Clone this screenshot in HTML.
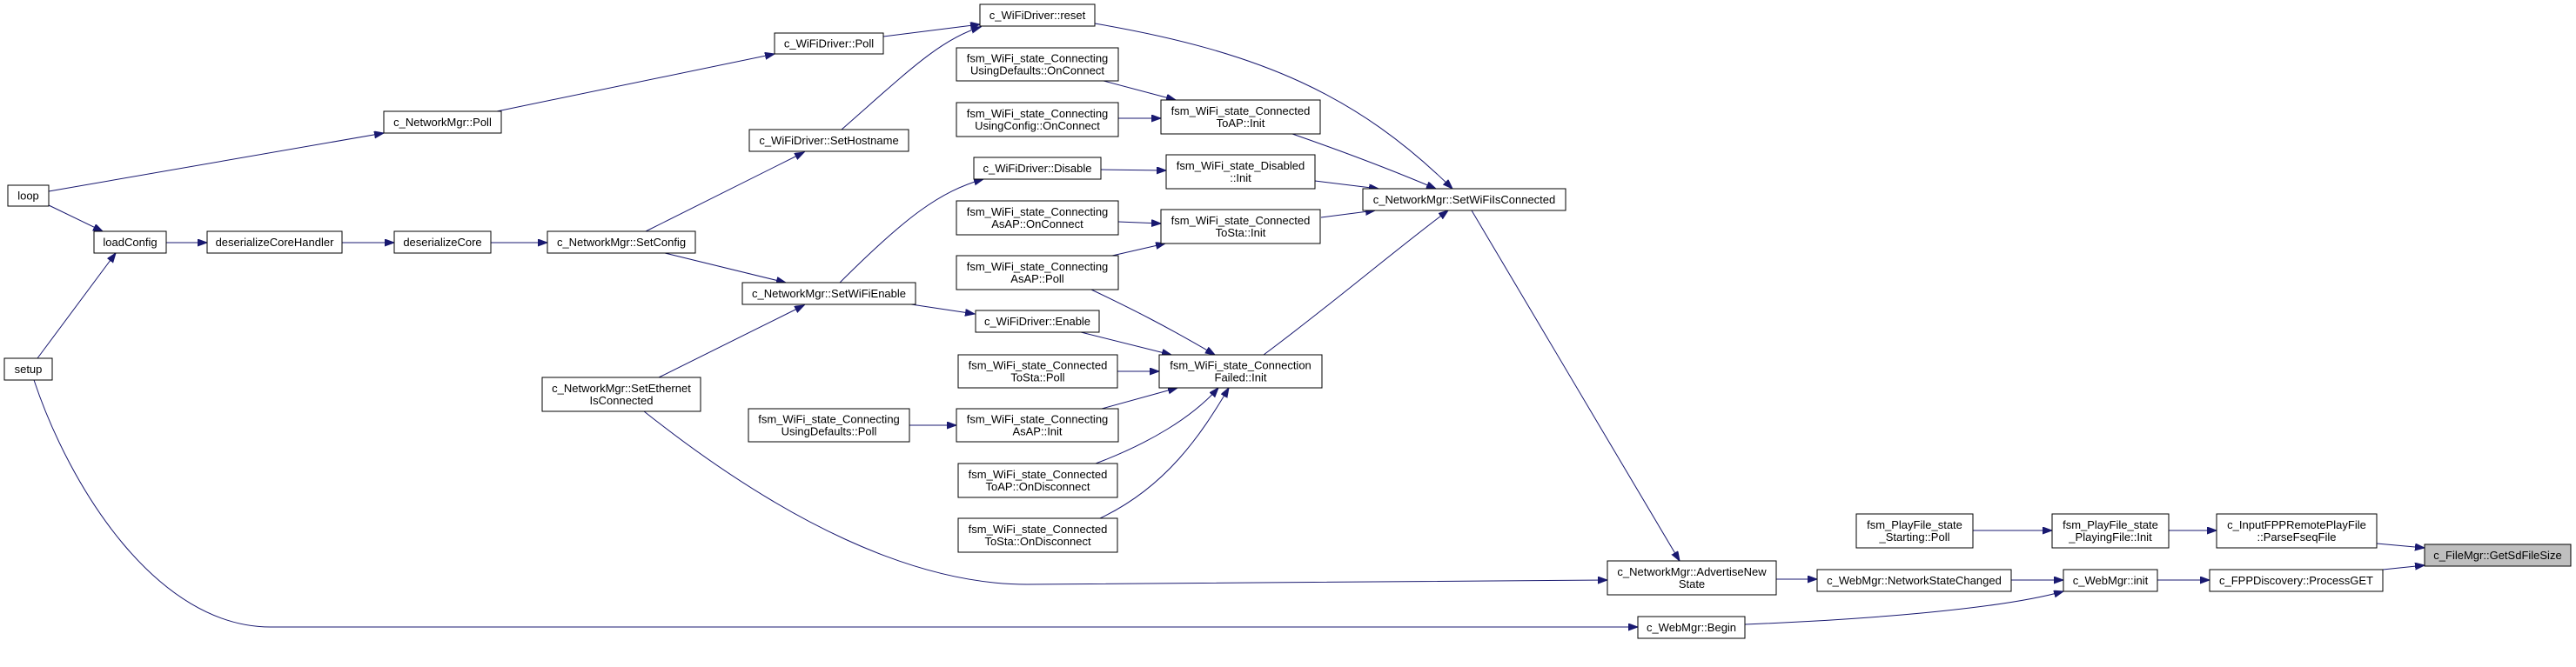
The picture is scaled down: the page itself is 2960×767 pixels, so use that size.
<!DOCTYPE html>
<html><head><meta charset="utf-8"><style>
html,body{margin:0;padding:0;background:#fff;}
svg{display:block;}
rect{fill:#fff;stroke:#000;stroke-width:1;}
text{font-family:"Liberation Sans",sans-serif;font-size:13px;text-anchor:middle;fill:#000;}
path{fill:none;stroke:#191970;stroke-width:1;}
</style></head><body>
<svg width="2960" height="767" xmlns="http://www.w3.org/2000/svg">
<defs><marker id="a" markerUnits="userSpaceOnUse" markerWidth="12" markerHeight="10" refX="11" refY="4" orient="auto"><path d="M0,0 L11,4 L0,8 z" style="fill:#191970;stroke:#191970"/></marker></defs>
<g marker-end="url(#a)">
<path d="M56,220 L441,153"/>
<path d="M56,236 L118,266"/>
<path d="M43,412 L133,291"/>
<path d="M191,279 L238,279"/>
<path d="M393,279 L453,279"/>
<path d="M564,279 L629,279"/>
<path d="M571,128 L890,62"/>
<path d="M1015,42 L1126,28"/>
<path d="M967,149 C1040,85 1080,45 1127,31"/>
<path d="M742,266 L924,175"/>
<path d="M764,291 L903,325"/>
<path d="M757,434 L924,351"/>
<path d="M965,325 C1040,250 1080,220 1130,206"/>
<path d="M1047,350 L1120,361"/>
<path d="M1268,93 L1351,115"/>
<path d="M1285,136 L1334,136"/>
<path d="M1265,195 L1340,196"/>
<path d="M1285,255 L1334,257"/>
<path d="M1278,294 L1339,280"/>
<path d="M1254,333 C1300,355 1340,375 1396,408"/>
<path d="M1242,382 L1346,408"/>
<path d="M1284,427 L1332,427"/>
<path d="M1266,470 L1353,446"/>
<path d="M1259,533 C1320,510 1370,480 1400,446"/>
<path d="M1264,596 C1340,560 1380,500 1412,446"/>
<path d="M1045,489 L1099,489"/>
<path d="M1258,27 C1450,60 1560,110 1669,217"/>
<path d="M1485,154 C1560,180 1610,200 1650,217"/>
<path d="M1511,208 L1584,217"/>
<path d="M1518,250 L1580,242"/>
<path d="M1452,408 C1530,350 1600,290 1664,242"/>
<path d="M1691,242 L1930,645"/>
<path d="M740,473 C900,600 1050,672 1180,672 L1847,667"/>
<path d="M39,437 C80,560 180,721 311,721 L1882,721"/>
<path d="M2041,666 L2088,666"/>
<path d="M2311,667 L2371,667"/>
<path d="M2005,718 C2150,712 2300,700 2371,680"/>
<path d="M2267,610 L2358,610"/>
<path d="M2492,610 L2547,610"/>
<path d="M2731,625 L2786,630"/>
<path d="M2479,667 L2539,667"/>
<path d="M2738,655 L2786,650"/>
</g>
<rect x="9" y="213" width="47" height="24"/><text x="32.5" y="229.5">loop</text>
<rect x="108" y="266" width="83" height="25"/><text x="149.5" y="283">loadConfig</text>
<rect x="238" y="266" width="155" height="25"/><text x="315.5" y="283">deserializeCoreHandler</text>
<rect x="453" y="266" width="111" height="25"/><text x="508.5" y="283">deserializeCore</text>
<rect x="629" y="266" width="170" height="25"/><text x="714" y="283">c_NetworkMgr::SetConfig</text>
<rect x="441" y="128" width="135" height="25"/><text x="508.5" y="145">c_NetworkMgr::Poll</text>
<rect x="5" y="412" width="55" height="25"/><text x="32.5" y="429">setup</text>
<rect x="623" y="434" width="182" height="39"/><text x="714" y="451">c_NetworkMgr::SetEthernet</text><text x="714" y="465">IsConnected</text>
<rect x="890" y="38" width="125" height="24"/><text x="952.5" y="54.5">c_WiFiDriver::Poll</text>
<rect x="1126" y="5" width="132" height="25"/><text x="1192" y="22">c_WiFiDriver::reset</text>
<rect x="1099" y="55" width="186" height="38"/><text x="1192" y="71.5">fsm_WiFi_state_Connecting</text><text x="1192" y="85.5">UsingDefaults::OnConnect</text>
<rect x="1099" y="118" width="186" height="39"/><text x="1192" y="135">fsm_WiFi_state_Connecting</text><text x="1192" y="149">UsingConfig::OnConnect</text>
<rect x="861" y="149" width="183" height="25"/><text x="952.5" y="166">c_WiFiDriver::SetHostname</text>
<rect x="1334" y="115" width="183" height="39"/><text x="1425.5" y="132">fsm_WiFi_state_Connected</text><text x="1425.5" y="146">ToAP::Init</text>
<rect x="1119" y="181" width="146" height="25"/><text x="1192" y="198">c_WiFiDriver::Disable</text>
<rect x="1340" y="178" width="171" height="39"/><text x="1425.5" y="195">fsm_WiFi_state_Disabled</text><text x="1425.5" y="209">::Init</text>
<rect x="1099" y="231" width="186" height="39"/><text x="1192" y="248">fsm_WiFi_state_Connecting</text><text x="1192" y="262">AsAP::OnConnect</text>
<rect x="1334" y="241" width="183" height="39"/><text x="1425.5" y="258">fsm_WiFi_state_Connected</text><text x="1425.5" y="272">ToSta::Init</text>
<rect x="1099" y="294" width="186" height="39"/><text x="1192" y="311">fsm_WiFi_state_Connecting</text><text x="1192" y="325">AsAP::Poll</text>
<rect x="853" y="325" width="199" height="25"/><text x="952.5" y="342">c_NetworkMgr::SetWiFiEnable</text>
<rect x="1121" y="357" width="142" height="25"/><text x="1192" y="374">c_WiFiDriver::Enable</text>
<rect x="1101" y="408" width="183" height="38"/><text x="1192.5" y="424.5">fsm_WiFi_state_Connected</text><text x="1192.5" y="438.5">ToSta::Poll</text>
<rect x="1332" y="408" width="187" height="38"/><text x="1425.5" y="424.5">fsm_WiFi_state_Connection</text><text x="1425.5" y="438.5">Failed::Init</text>
<rect x="860" y="470" width="185" height="38"/><text x="952.5" y="486.5">fsm_WiFi_state_Connecting</text><text x="952.5" y="500.5">UsingDefaults::Poll</text>
<rect x="1099" y="470" width="186" height="38"/><text x="1192" y="486.5">fsm_WiFi_state_Connecting</text><text x="1192" y="500.5">AsAP::Init</text>
<rect x="1101" y="533" width="183" height="39"/><text x="1192.5" y="550">fsm_WiFi_state_Connected</text><text x="1192.5" y="564">ToAP::OnDisconnect</text>
<rect x="1101" y="596" width="183" height="39"/><text x="1192.5" y="613">fsm_WiFi_state_Connected</text><text x="1192.5" y="627">ToSta::OnDisconnect</text>
<rect x="1566" y="217" width="233" height="25"/><text x="1682.5" y="234">c_NetworkMgr::SetWiFiIsConnected</text>
<rect x="1847" y="645" width="194" height="39"/><text x="1944" y="662">c_NetworkMgr::AdvertiseNew</text><text x="1944" y="676">State</text>
<rect x="2088" y="655" width="223" height="25"/><text x="2199.5" y="672">c_WebMgr::NetworkStateChanged</text>
<rect x="1882" y="709" width="123" height="25"/><text x="1943.5" y="726">c_WebMgr::Begin</text>
<rect x="2133" y="591" width="134" height="39"/><text x="2200" y="608">fsm_PlayFile_state</text><text x="2200" y="622">_Starting::Poll</text>
<rect x="2358" y="591" width="134" height="39"/><text x="2425" y="608">fsm_PlayFile_state</text><text x="2425" y="622">_PlayingFile::Init</text>
<rect x="2547" y="591" width="184" height="39"/><text x="2639" y="608">c_InputFPPRemotePlayFile</text><text x="2639" y="622">::ParseFseqFile</text>
<rect x="2371" y="655" width="108" height="25"/><text x="2425" y="672">c_WebMgr::init</text>
<rect x="2539" y="655" width="199" height="25"/><text x="2638.5" y="672">c_FPPDiscovery::ProcessGET</text>
<rect x="2786" y="626" width="168" height="25" style="fill:#bfbfbf"/><text x="2870" y="643">c_FileMgr::GetSdFileSize</text>
</svg>
</body></html>
